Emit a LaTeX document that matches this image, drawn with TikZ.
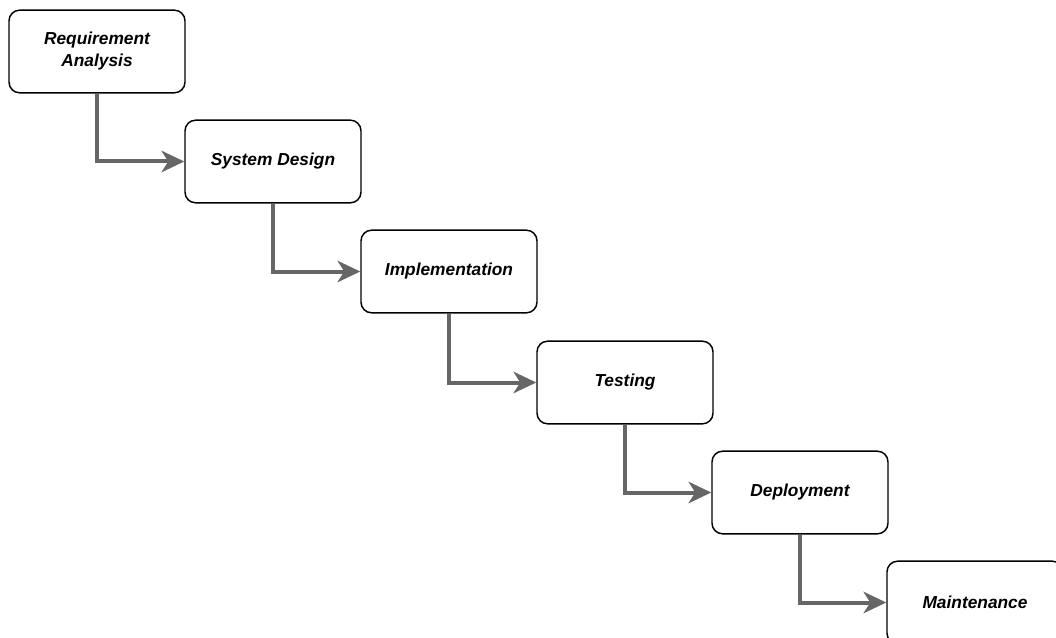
\documentclass[tikz,border=0pt]{standalone}
\usepackage{fontspec}
\setmainfont{Liberation Sans}
\usetikzlibrary{arrows.meta}

\definecolor{flowgray}{HTML}{666666}

\tikzset{
    phase/.style={draw, line width=1.1pt, rounded corners=8pt, fill=white,
        minimum width=132pt, minimum height=62pt, align=center,
        font=\fontsize{13}{16.5}\selectfont\bfseries\itshape},
    flow/.style={draw=flowgray, line width=3pt,
        -{Stealth[length=17pt, width=16pt, inset=5pt]}}
}

\begin{document}
\begin{tikzpicture}[x=0.75pt, y=-0.75pt]
            \clip (0, 0) rectangle (1056, 638);

            \node[phase] (req) at (97, 51.5) {Requirement\\Analysis};
            \node[phase] (design) at (273, 161.5) {System Design};
            \node[phase] (impl) at (449, 271.5) {Implementation};
            \node[phase] (test) at (625, 382.5) {Testing};
            \node[phase] (deploy) at (800, 492.5) {Deployment};
            \node[phase] (maint) at (975, 602.5) {Maintenance};

            \draw[flow] (req.south) |- (design.west);
            \draw[flow] (design.south) |- (impl.west);
            \draw[flow] (impl.south) |- (test.west);
            \draw[flow] (test.south) |- (deploy.west);
            \draw[flow] (deploy.south) |- (maint.west);
        \end{tikzpicture}
\end{document}
